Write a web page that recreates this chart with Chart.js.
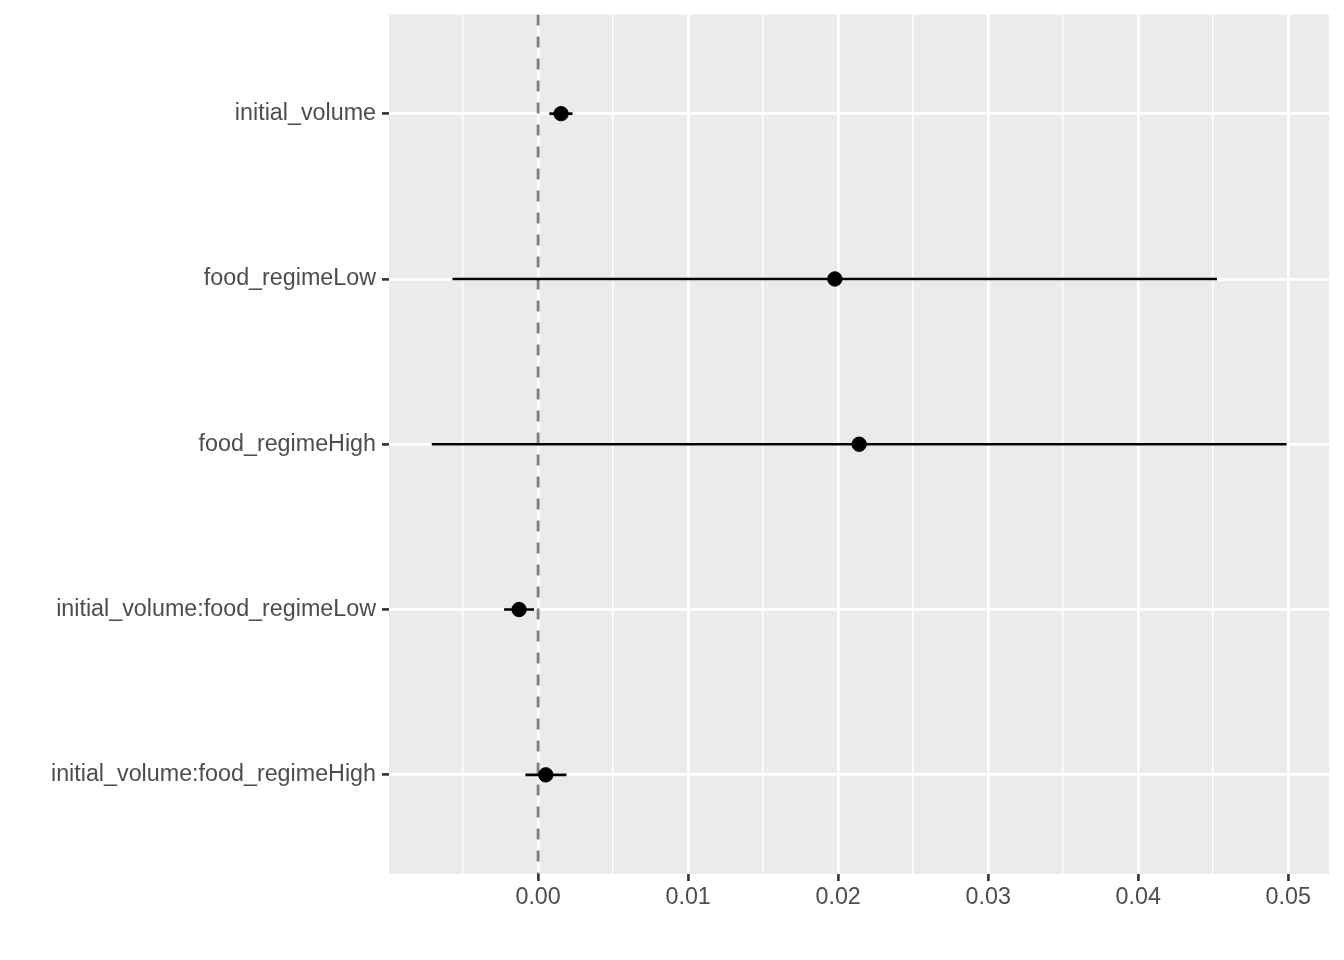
<!DOCTYPE html>
<html>
<head>
<meta charset="utf-8">
<script src="https://cdn.jsdelivr.net/npm/chart.js@4/dist/chart.umd.min.js"></script>
<style>
  html, body { margin: 0; padding: 0; background: #ffffff; }
  #wrap { width: 1344px; height: 960px; }
</style>
</head>
<body>
<div id="wrap"><canvas id="c" width="1344" height="960"></canvas></div>
<script>
const terms = ['initial_volume', 'food_regimeLow', 'food_regimeHigh', 'initial_volume:food_regimeLow', 'initial_volume:food_regimeHigh'];
const estimate = [0.00153, 0.01978, 0.02140, -0.00127, 0.00051];
const lower = [0.00075, -0.00571, -0.00709, -0.00227, -0.00085];
const upper = [0.00229, 0.04525, 0.04989, -0.00027, 0.00189];
const refLine = 0;
const xTicks = [0, 0.01, 0.02, 0.03, 0.04, 0.05];
const xTickLabels = ['0.00', '0.01', '0.02', '0.03', '0.04', '0.05'];
const xMinor = [-0.005, 0.005, 0.015, 0.025, 0.035, 0.045];
const xMin = -0.00994, xMax = 0.05274;
const yMin = 0.4, yMax = terms.length + 0.6;

const isMinor = v => xMinor.some(m => Math.abs(m - v) < 1e-9);

const bgPlugin = {
  id: 'panelBg',
  beforeDraw(chart) {
    const { ctx, chartArea: a } = chart;
    ctx.save();
    ctx.fillStyle = '#EBEBEB';
    ctx.fillRect(a.left, a.top, a.right - a.left, a.bottom - a.top);
    ctx.restore();
  }
};

const datasets = [];
datasets.push({
  data: [{ x: refLine, y: yMin }, { x: refLine, y: yMax }],
  showLine: true, borderColor: '#7F7F7F', borderWidth: 2.8, borderDash: [11, 11],
  pointRadius: 0, order: 3
});
terms.forEach((t, i) => {
  datasets.push({
    data: [{ x: lower[i], y: i + 1 }, { x: upper[i], y: i + 1 }],
    showLine: true, borderColor: '#000000', borderWidth: 2.6,
    pointRadius: 0, order: 2
  });
});
datasets.push({
  data: estimate.map((e, i) => ({ x: e, y: i + 1 })),
  pointRadius: 7.2, backgroundColor: '#000000', borderColor: '#000000', borderWidth: 1,
  order: 1
});

const tickFont = { family: "'Liberation Sans', Arial, sans-serif", size: 23.3 };

new Chart(document.getElementById('c'), {
  type: 'scatter',
  data: { datasets },
  plugins: [bgPlugin],
  options: {
    responsive: false,
    animation: false,
    layout: { padding: { top: 14.5, right: 14.7, left: 0, bottom: 0 } },
    plugins: { legend: { display: false }, tooltip: { enabled: false } },
    scales: {
      x: {
        type: 'linear', min: xMin, max: xMax,
        afterBuildTicks: s => { s.ticks = xMinor.concat(xTicks).sort((a, b) => a - b).map(v => ({ value: v })); },
        afterFit: s => { s.height = 86; s.paddingLeft = 0; s.paddingRight = 0; },
        border: { display: false },
        grid: {
          color: '#FFFFFF',
          lineWidth: c => (c.tick && isMinor(c.tick.value)) ? 1.4 : 2.8,
          tickColor: c => (c.tick && isMinor(c.tick.value)) ? 'rgba(0,0,0,0)' : '#333333',
          tickWidth: 2.6,
          tickLength: 7,
          drawTicks: true
        },
        ticks: {
          autoSkip: false, maxRotation: 0, padding: 3,
          color: '#4D4D4D', font: tickFont,
          callback: v => { const i = xTicks.findIndex(t => Math.abs(t - v) < 1e-9); return i >= 0 ? xTickLabels[i] : ''; }
        }
      },
      y: {
        type: 'linear', reverse: true, min: yMin, max: yMax,
        afterBuildTicks: s => { s.ticks = terms.map((t, i) => ({ value: i + 1 })); },
        afterFit: s => { s.width = 389; s.paddingTop = 0; s.paddingBottom = 0; },
        border: { display: false },
        grid: {
          color: '#FFFFFF', lineWidth: 2.8,
          tickColor: '#333333', tickWidth: 2.6, tickLength: 7, drawTicks: true
        },
        ticks: {
          autoSkip: false, padding: 6,
          color: '#4D4D4D', font: tickFont,
          callback: v => terms[Math.round(v) - 1]
        }
      }
    }
  }
});
</script>
</body>
</html>
